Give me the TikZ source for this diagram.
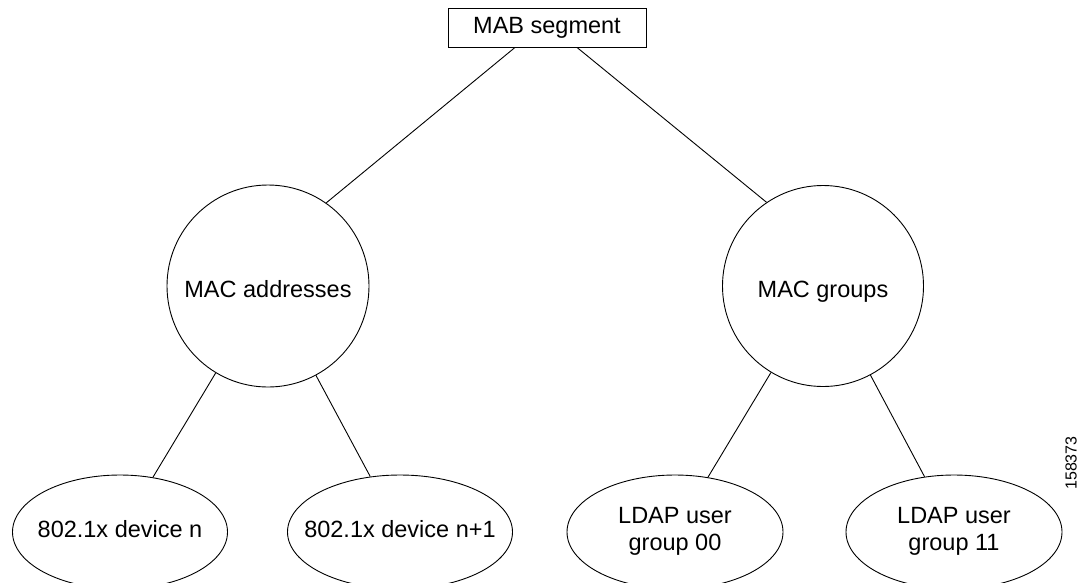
\documentclass[tikz,border=0pt]{standalone}
\usepackage{fontspec}
\setmainfont{Liberation Sans}
\usepackage{tikz}
\usetikzlibrary{shapes.geometric,calc}

%% text kept at zero width so the ellipse takes its size from the style
\newcommand{\leaftext}[1]{\makebox[0pt]{\begin{tabular}{@{}c@{}}#1\end{tabular}}}

\begin{document}
\begin{tikzpicture}[
    x=1pt, y=-1pt,
    font=\fontsize{23.5}{27}\selectfont,
    segbox/.style={
        draw=black, line width=0.9pt, rectangle, inner sep=0pt,
        minimum width=198pt, minimum height=39pt},
    grpnode/.style={
        draw=black, line width=0.9pt, circle, inner sep=0pt,
        text height=22pt, text depth=0pt, minimum size=#1},
    leaf/.style={
        draw=black, line width=0.9pt, ellipse, inner sep=0pt,
        minimum width=#1, minimum height=114pt},
    link/.style={draw=black, line width=0.9pt}
]
\useasboundingbox (0,0) rectangle (1079,582);

%% ══════════════════════════════ ROOT ══════════════════════════════
\node[segbox] (mab) at (547,27.5) {MAB segment};

%% ══════════════════════════════ GROUPS ══════════════════════════════
\node[grpnode=202pt] (macaddr) at (268,286) {MAC addresses};
\node[grpnode=201pt] (macgrp)  at (823,286) {MAC groups};

\draw[link] ($(mab.south)+(-32,0)$) -- (macaddr.55);
\draw[link] ($(mab.south)+(30,0)$)  -- (macgrp.124);

%% ══════════════════════════════ LEAVES ══════════════════════════════
\node[leaf=215pt] (dev_n)   at (120,532) {\leaftext{802.1x device n}};
\node[leaf=225pt] (dev_n1)  at (400,532) {\leaftext{802.1x device n+1}};
\node[leaf=216pt] (ldap_00) at (675,532) {\leaftext{LDAP user\\group 00}};
\node[leaf=216pt] (ldap_11) at (954,532) {\leaftext{LDAP user\\group 11}};

\draw[link] (macaddr) -- (dev_n);
\draw[link] (macaddr) -- (dev_n1);
\draw[link] (macgrp)  -- (ldap_00);
\draw[link] (macgrp)  -- (ldap_11);

%% figure number
\node[rotate=90, font=\fontsize{16}{18}\selectfont, inner sep=0pt] (fignum)
    at (1071,463) {158373};

\end{tikzpicture}
\end{document}
